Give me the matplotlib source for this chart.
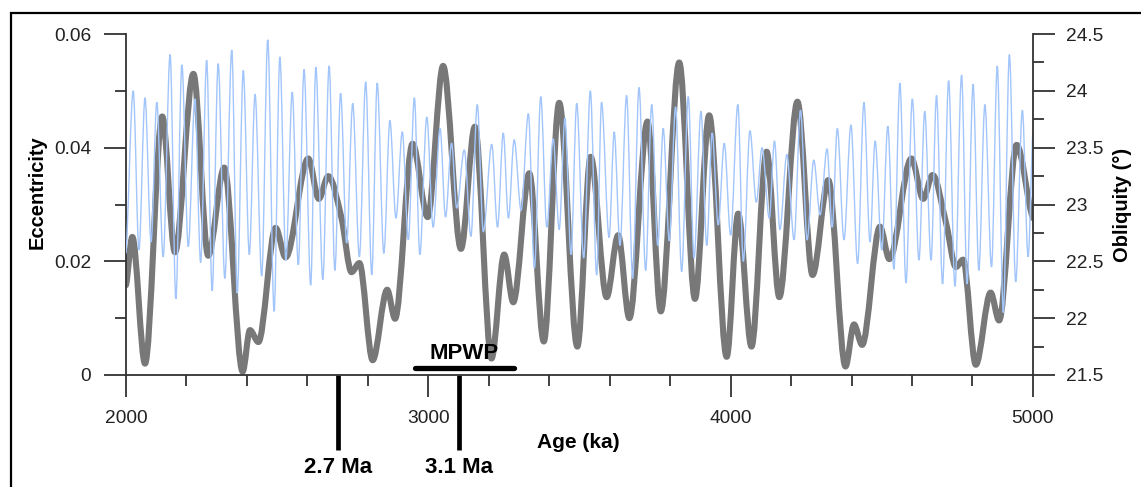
import numpy as np
import matplotlib
matplotlib.use('Agg')
import matplotlib.pyplot as plt
from matplotlib.path import Path
from matplotlib.patches import PathPatch, Rectangle
from matplotlib.ticker import MultipleLocator, FuncFormatter

plt.rcParams['font.family'] = ['Liberation Sans', 'DejaVu Sans']

# eccentricity, turning points (age in ka)
ecc_age = [2000, 2021, 2063, 2120, 2162, 2223, 2272, 2325, 2386, 2410, 2438,
           2495, 2528, 2603, 2638, 2669, 2713, 2746, 2772, 2816, 2864, 2890,
           2948, 2998, 3049, 3108, 3154, 3209, 3251, 3281, 3334, 3382, 3433,
           3493, 3537, 3590, 3628, 3665, 3725, 3769, 3830, 3882, 3929, 3987,
           4025, 4069, 4119, 4161, 4221, 4271, 4323, 4380, 4408, 4435, 4494,
           4525, 4598, 4637, 4668, 4714, 4745, 4769, 4811, 4860, 4888, 4946,
           5000]
ecc_val = [0.0158, 0.0243, 0.0020, 0.0455, 0.0216, 0.0530, 0.0210, 0.0365,
           0.0006, 0.0079, 0.0058, 0.0259, 0.0207, 0.0381, 0.0310, 0.0350,
           0.0276, 0.0181, 0.0197, 0.0026, 0.0150, 0.0099, 0.0407, 0.0278,
           0.0544, 0.0222, 0.0437, 0.0029, 0.0212, 0.0128, 0.0355, 0.0059,
           0.0479, 0.0050, 0.0384, 0.0137, 0.0246, 0.0100, 0.0446, 0.0112,
           0.0550, 0.0134, 0.0457, 0.0032, 0.0284, 0.0050, 0.0393, 0.0137,
           0.0481, 0.0176, 0.0343, 0.0015, 0.0089, 0.0053, 0.0261, 0.0204,
           0.0381, 0.0310, 0.0352, 0.0264, 0.0190, 0.0203, 0.0018, 0.0145,
           0.0096, 0.0405, 0.0276]

# obliquity, peaks and troughs
obl_age = [2000, 2024, 2043, 2063, 2083, 2102, 2123, 2146, 2165, 2185, 2206,
           2228, 2247, 2267, 2285, 2305, 2327, 2350, 2368, 2388, 2408, 2427,
           2449, 2469, 2490, 2509, 2529, 2550, 2570, 2589, 2611, 2628, 2651,
           2672, 2691, 2710, 2730, 2750, 2772, 2793, 2813, 2831, 2853, 2873,
           2893, 2914, 2934, 2954, 2972, 2995, 3016, 3039, 3057, 3077, 3094,
           3119, 3141, 3162, 3182, 3210, 3229, 3248, 3265, 3284, 3307, 3331,
           3351, 3372, 3392, 3413, 3433, 3452, 3472, 3491, 3514, 3536, 3557,
           3573, 3598, 3615, 3634, 3656, 3676, 3697, 3719, 3739, 3759, 3777,
           3797, 3818, 3838, 3860, 3879, 3902, 3921, 3939, 3959, 3979, 4000,
           4024, 4042, 4064, 4085, 4104, 4128, 4145, 4163, 4186, 4210, 4231,
           4253, 4275, 4296, 4319, 4336, 4353, 4375, 4398, 4420, 4441, 4461,
           4478, 4500, 4520, 4540, 4560, 4580, 4601, 4623, 4642, 4663, 4681,
           4701, 4721, 4742, 4764, 4782, 4802, 4821, 4841, 4863, 4882, 4902,
           4922, 4943, 4965, 4984, 5000]
obl_val = [22.57, 24.00, 22.60, 23.94, 22.67, 23.90, 22.54, 24.32, 22.17,
           24.23, 22.63, 23.93, 22.49, 24.27, 22.24, 24.24, 22.35, 24.36,
           22.22, 24.18, 22.56, 23.97, 22.37, 24.45, 22.06, 24.30, 22.51,
           23.99, 22.47, 24.19, 22.29, 24.21, 22.34, 24.22, 22.42, 23.98,
           22.66, 23.89, 22.54, 24.08, 22.38, 24.07, 22.57, 23.74, 22.88,
           23.64, 22.69, 23.94, 22.56, 23.77, 22.80, 23.67, 22.89, 23.54,
           22.97, 23.48, 22.72, 23.88, 22.76, 23.53, 22.80, 23.63, 22.88,
           23.57, 22.95, 23.80, 22.44, 23.95, 22.80, 23.58, 22.78, 23.76,
           22.56, 23.89, 22.53, 24.00, 22.38, 23.90, 22.71, 23.64, 22.64,
           23.96, 22.35, 24.03, 22.42, 23.88, 22.64, 23.67, 22.68, 23.86,
           22.41, 23.95, 22.53, 23.82, 22.64, 23.63, 22.82, 23.54, 22.73,
           23.88, 22.50, 23.65, 23.02, 23.50, 22.88, 23.56, 22.78, 23.44,
           22.69, 23.83, 22.69, 23.39, 22.91, 23.49, 22.80, 23.67, 22.69,
           23.70, 22.48, 23.90, 22.67, 23.56, 22.60, 23.69, 22.43, 24.07,
           22.31, 23.93, 22.51, 23.82, 22.51, 23.96, 22.30, 24.09, 22.28,
           24.14, 22.30, 24.06, 22.42, 23.88, 22.45, 24.22, 22.05, 24.32,
           22.32, 23.83, 22.54, 23.65]

event_age = [2700, 3100]
event_label = ['2.7 Ma', '3.1 Ma']
mpwp_age = [2955, 3285]


def smooth_path(x, y):
    # cubic bezier through the turning points, flat tangent at each extremum
    x = np.asarray(x, float)
    y = np.asarray(y, float)
    n = len(x)
    m = np.zeros(n)
    for i in range(n):
        if i == 0:
            m[i] = (y[1] - y[0]) / (x[1] - x[0]) * 0.5
        elif i == n - 1:
            m[i] = (y[-1] - y[-2]) / (x[-1] - x[-2]) * 0.5
        elif (y[i] - y[i-1]) * (y[i+1] - y[i]) > 0:
            m[i] = (y[i+1] - y[i-1]) / (x[i+1] - x[i-1])
    verts = [(x[0], y[0])]
    codes = [Path.MOVETO]
    for i in range(n - 1):
        dx = x[i+1] - x[i]
        verts += [(x[i] + dx/3, y[i] + m[i]*dx/3),
                  (x[i+1] - dx/3, y[i+1] - m[i+1]*dx/3),
                  (x[i+1], y[i+1])]
        codes += [Path.CURVE4] * 3
    return Path(verts, codes)


fig = plt.figure(figsize=(11.41, 4.87), dpi=100)
ax = fig.add_axes([0.1104, 0.230, 0.7949, 0.700])
ax2 = ax.twinx()

ax.add_patch(PathPatch(smooth_path(ecc_age, ecc_val), facecolor='none',
                       edgecolor='#787878', lw=4.4, capstyle='round',
                       joinstyle='round'))
ax2.add_patch(PathPatch(smooth_path(obl_age, obl_val), facecolor='none',
                        edgecolor='#a2c5fb', lw=1.0))

ax.set_xlim(2000, 5000)
ax.set_ylim(0, 0.06)
ax2.set_ylim(21.5, 24.5)

ax.xaxis.set_major_locator(MultipleLocator(1000))
ax.xaxis.set_minor_locator(MultipleLocator(200))
ax.yaxis.set_major_locator(MultipleLocator(0.02))
ax.yaxis.set_minor_locator(MultipleLocator(0.01))
ax2.yaxis.set_major_locator(MultipleLocator(0.5))
ax2.yaxis.set_minor_locator(MultipleLocator(0.25))
fmt = FuncFormatter(lambda v, p: '%g' % round(v, 4))
ax.yaxis.set_major_formatter(fmt)
ax2.yaxis.set_major_formatter(fmt)

for a in (ax, ax2):
    a.spines['top'].set_visible(False)
    for s in a.spines.values():
        s.set_color('#333333')
        s.set_linewidth(1.3)
ax.spines['right'].set_visible(False)
ax2.spines['left'].set_visible(False)
ax2.spines['bottom'].set_visible(False)

# tick lengths in points (22 px / 11 px at 100 dpi)
ax.tick_params(axis='both', which='major', direction='out', length=16,
               width=1.3, color='#333333', labelsize=13.8, labelcolor='#222222')
ax.tick_params(axis='both', which='minor', direction='out', length=8,
               width=1.3, color='#333333')
ax.tick_params(axis='y', pad=9)
ax.tick_params(axis='x', pad=9)
ax2.tick_params(axis='y', which='major', direction='out', length=16,
                width=1.3, color='#333333', labelsize=13.8,
                labelcolor='#222222', pad=8)
ax2.tick_params(axis='y', which='minor', direction='out', length=8,
                width=1.3, color='#333333')

fig.text(37/1141, 1 - 192/487, 'Eccentricity', rotation=90, ha='center',
         va='center', fontsize=14.5, fontweight='bold')
fig.text(1123/1141, 1 - 205/487, 'Obliquity (°)', rotation=90, ha='center',
         va='center', fontsize=14.5, fontweight='bold')
fig.text(578/1141, 1 - 442/487, 'Age (ka)', ha='center', va='center',
         fontsize=15, fontweight='bold')

# event markers below the axis
xt = ax.get_xaxis_transform()
for age, lab in zip(event_age, event_label):
    ax.plot([age, age], [0, -0.22], color='black', lw=3.4, transform=xt,
            clip_on=False, solid_capstyle='butt')
    ax.text(age, -0.272, lab, transform=xt, ha='center', va='center',
            fontsize=16, fontweight='bold')

ax2.plot(mpwp_age, [0.0205, 0.0205], color='black', lw=3.8,
         transform=ax2.get_xaxis_transform(), solid_capstyle='round',
         clip_on=False)
ax2.text(np.mean(mpwp_age), 0.063, 'MPWP', transform=ax2.get_xaxis_transform(),
         ha='center', va='center', fontsize=16, fontweight='bold')

fig.patches.append(Rectangle((11/1141, -0.2), 1.2, 0.2 + 1 - 13/487,
                             transform=fig.transFigure, fill=False,
                             edgecolor='black', lw=1.6))

fig.savefig('out.png', dpi=100)
